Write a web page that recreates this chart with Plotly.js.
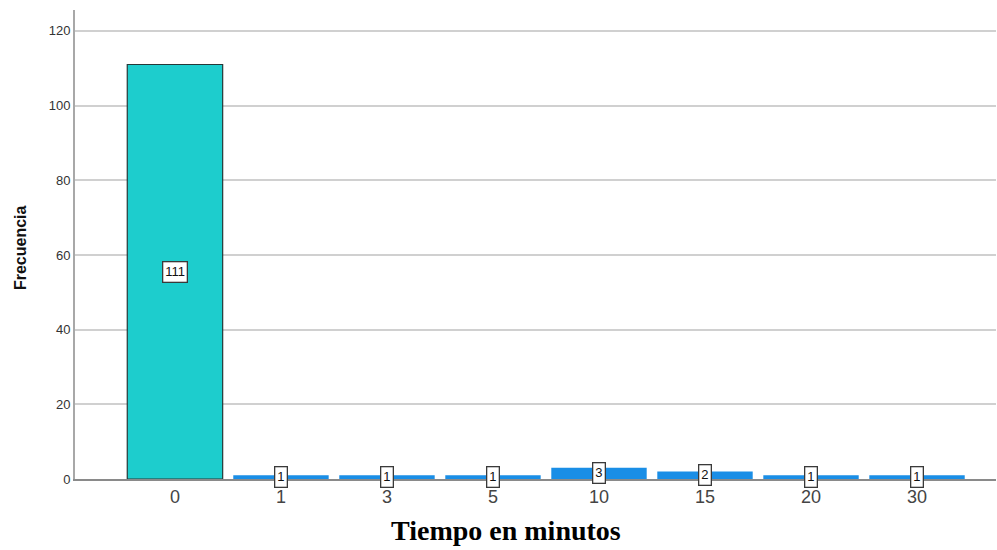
<!DOCTYPE html>
<html>
<head>
<meta charset="utf-8">
<script src="https://cdn.plot.ly/plotly-3.0.1.min.js"></script>
<style>html,body{margin:0;padding:0;background:#fff;}#chart{width:997px;height:550px;}</style>
</head>
<body>
<div id="chart"></div>
<script>
var categories = ['0', '1', '3', '5', '10', '15', '20', '30'];
var frecuencia = [111, 1, 1, 1, 3, 2, 1, 1];
var yTicks = [0, 20, 40, 60, 80, 100, 120];
var xTitle = 'Tiempo en minutos';
var yTitle = 'Frecuencia';

var barColors = categories.map(function (c, i) { return i === 0 ? '#1dcdcd' : '#1a8ee6'; });
var lineWidths = categories.map(function (c, i) { return i === 0 ? 1.2 : 0; });

var trace = {
  type: 'bar',
  x: categories,
  y: frecuencia,
  marker: { color: barColors, line: { color: '#263838', width: lineWidths } },
  hoverinfo: 'x+y'
};

var annotations = categories.map(function (c, i) {
  return {
    x: i, y: frecuencia[i] / 2, xref: 'x', yref: 'y',
    text: String(frecuencia[i]), showarrow: false,
    font: { family: 'Arial, Liberation Sans, sans-serif', size: 13, color: '#111' },
    bgcolor: '#ffffff', bordercolor: '#3a3a3a', borderwidth: 1.3, borderpad: 2
  };
});

annotations.push({
  xref: 'paper', yref: 'paper', x: 0.468, y: -0.11, xanchor: 'center', yanchor: 'middle',
  text: '<b>' + xTitle + '</b>', showarrow: false,
  font: { family: 'Liberation Serif, Times New Roman, serif', size: 28, color: '#000' }
});
annotations.push({
  xref: 'paper', yref: 'paper', x: -0.0597, y: 0.4925, xanchor: 'center', yanchor: 'middle',
  text: '<b>' + yTitle + '</b>', showarrow: false, textangle: -90,
  font: { family: 'Arial, Liberation Sans, sans-serif', size: 16, color: '#111' }
});

var layout = {
  width: 997, height: 550,
  margin: { l: 75, r: 1, t: 10, b: 71 },
  paper_bgcolor: '#ffffff', plot_bgcolor: '#ffffff',
  bargap: 0.1,
  showlegend: false,
  xaxis: {
    type: 'category',
    range: [-0.943, 7.745],
    showgrid: false,
    showline: true, linecolor: '#8a8a8a', linewidth: 2,
    ticks: '', ticklen: 0,
    tickfont: { family: 'Arial, Liberation Sans, sans-serif', size: 18, color: '#444' },
    zeroline: false
  },
  yaxis: {
    range: [0, 125.6],
    tickvals: yTicks,
    showgrid: true, gridcolor: '#d0d0d0', gridwidth: 2,
    showline: true, linecolor: '#a8a8a8', linewidth: 2,
    ticks: '', ticklen: 0,
    zeroline: false,
    tickfont: { family: 'Arial, Liberation Sans, sans-serif', size: 13, color: '#333' }
  },
  annotations: annotations
};

Plotly.newPlot('chart', [trace], layout, { displayModeBar: false, staticPlot: true });
</script>
</body>
</html>
